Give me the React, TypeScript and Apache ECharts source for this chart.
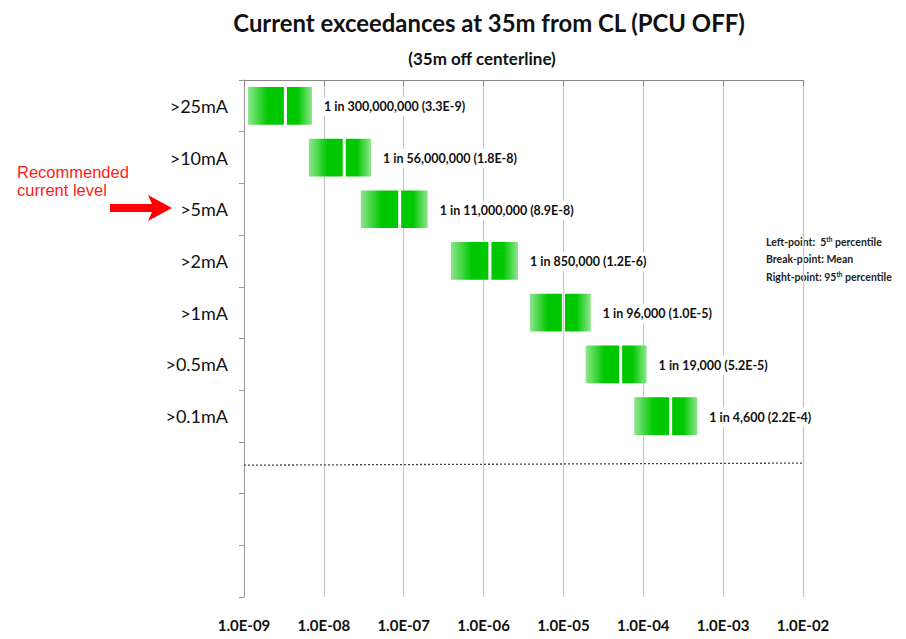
import React, { useEffect, useRef } from "react";
import * as echarts from "echarts";

const categories = [">25mA", ">10mA", ">5mA", ">2mA", ">1mA", ">0.5mA", ">0.1mA", "", "", ""];
const lowValues = [1.12e-9, 6.5e-9, 2.9e-8, 3.9e-7, 3.8e-6, 1.9e-5, 7.7e-5];
const meanValues = [3.3e-9, 1.8e-8, 8.9e-8, 1.2e-6, 1.0e-5, 5.2e-5, 2.2e-4];
const highValues = [7.1e-9, 3.9e-8, 2.0e-7, 2.7e-6, 2.2e-5, 1.1e-4, 4.75e-4];
const rateLabels = [
  "1 in 300,000,000 (3.3E-9)",
  "1 in 56,000,000 (1.8E-8)",
  "1 in 11,000,000 (8.9E-8)",
  "1 in 850,000 (1.2E-6)",
  "1 in 96,000 (1.0E-5)",
  "1 in 19,000 (5.2E-5)",
  "1 in 4,600 (2.2E-4)",
];
const xTickLabels = ["1.0E-09", "1.0E-08", "1.0E-07", "1.0E-06", "1.0E-05", "1.0E-04", "1.0E-03", "1.0E-02"];
const dottedLineX = [1e-9, 1e-2];
const dottedLineY = [7.45, 7.41];

const FONT = "Lato, 'Open Sans', sans-serif";
const GREEN = "#00c800";
const LIGHT = "#8ee68e";

export default function App() {
  const ref = useRef<HTMLDivElement>(null);
  useEffect(() => {
    if (!ref.current) return;
    const chart = echarts.init(ref.current, null, { renderer: "svg" });
    const barData = lowValues.map((lo, i) => [i, lo, meanValues[i], highValues[i]]);
    const option: any = {
      animation: false,
      backgroundColor: "#fff",
      grid: { left: 244, right: 103, top: 80, bottom: 42, containLabel: false },
      xAxis: {
        type: "log",
        logBase: 10,
        min: 1e-9,
        max: 1e-2,
        axisLine: { lineStyle: { color: "#888", width: 1 } },
        axisTick: { show: true, length: 6, lineStyle: { color: "#888" } },
        splitLine: { show: true, lineStyle: { color: "#c8c8c8", width: 1.2 } },
        axisLabel: {
          margin: 20,
          fontSize: 15,
          fontWeight: "bold",
          color: "#111",
          fontFamily: FONT,
          formatter: (_v: number, i: number) => xTickLabels[i],
        },
      },
      yAxis: [
        {
          type: "category",
          data: categories,
          inverse: true,
          axisLine: { lineStyle: { color: "#999" } },
          axisTick: { show: true, length: 5, lineStyle: { color: "#999" } },
          axisLabel: { margin: 16, fontSize: 18, color: "#111", fontFamily: FONT },
          splitLine: { show: false },
        },
        { type: "value", min: 0, max: 10, inverse: true, show: false },
      ],
      series: [
        {
          type: "line",
          yAxisIndex: 1,
          data: dottedLineX.map((x, i) => [x, dottedLineY[i]]),
          symbol: "none",
          lineStyle: { type: [2, 2], color: "#444", width: 1.3 },
          z: 1,
        },
        {
          type: "custom",
          encode: { x: [1, 2, 3], y: 0 },
          data: barData,
          z: 5,
          renderItem: (params: any, api: any) => {
            const cat = api.value(0);
            const lo = api.coord([api.value(1), cat]);
            const mid = api.coord([api.value(2), cat]);
            const hi = api.coord([api.value(3), cat]);
            const band = params.coordSys.height / categories.length;
            const h = band * 0.73;
            const y = lo[1] - h / 2;
            const idx = params.dataIndex;
            return {
              type: "group",
              children: [
                {
                  type: "rect",
                  shape: { x: lo[0], y, width: mid[0] - lo[0] - 1.5, height: h },
                  style: {
                    fill: new echarts.graphic.LinearGradient(0, 0, 1, 0, [
                      { offset: 0, color: LIGHT },
                      { offset: 0.55, color: GREEN },
                      { offset: 1, color: GREEN },
                    ]),
                  },
                },
                {
                  type: "rect",
                  shape: { x: mid[0] + 1.5, y, width: hi[0] - mid[0] - 1.5, height: h },
                  style: {
                    fill: new echarts.graphic.LinearGradient(0, 0, 1, 0, [
                      { offset: 0, color: GREEN },
                      { offset: 0.45, color: GREEN },
                      { offset: 1, color: LIGHT },
                    ]),
                  },
                },
                {
                  type: "text",
                  x: hi[0] + 10,
                  y: lo[1] + 1,
                  style: {
                    text: rateLabels[idx],
                    fill: "#111",
                    fontSize: 12.5,
                    fontWeight: "bold",
                    fontFamily: FONT,
                    verticalAlign: "middle",
                    align: "left",
                    backgroundColor: "#fff",
                    padding: [3, 2],
                  },
                },
              ],
            };
          },
        },
      ],
      graphic: [
        {
          type: "text",
          x: 489,
          y: 22,
          scaleX: 0.955,
          style: {
            text: "Current exceedances at 35m from CL (PCU OFF)",
            fill: "#111",
            fontSize: 25,
            fontWeight: "bold",
            fontFamily: FONT,
            align: "center",
            verticalAlign: "middle",
          },
        },
        {
          type: "text",
          x: 482,
          y: 58,
          style: {
            text: "(35m off centerline)",
            fill: "#111",
            fontSize: 17,
            fontWeight: "bold",
            fontFamily: FONT,
            align: "center",
            verticalAlign: "middle",
          },
        },
        {
          type: "text",
          x: 17,
          y: 172,
          style: { text: "Recommended", fill: "#ff1a1a", fontSize: 16.5, fontFamily: "'Liberation Sans', Arial, sans-serif", verticalAlign: "middle" },
        },
        {
          type: "text",
          x: 17,
          y: 190,
          style: { text: "current level", fill: "#ff1a1a", fontSize: 16.5, fontFamily: "'Liberation Sans', Arial, sans-serif", verticalAlign: "middle" },
        },
        {
          type: "polygon",
          shape: {
            points: [
              [110, 204],
              [152, 204],
              [148, 195],
              [172, 208],
              [148, 221],
              [152, 212],
              [110, 212],
            ],
          },
          style: { fill: "#ff0000" },
        },
        {
          type: "text",
          x: 766,
          y: 233,
          style: {
            text: "{a|Left-point:  5}{s|th}{a| percentile}\n{a|Break-point: Mean}\n{a|Right-point: 95}{s|th}{a| percentile}",
            lineHeight: 17.5,
            rich: {
              a: { fontSize: 10.5, fontWeight: "bold", fill: "#222", fontFamily: FONT, lineHeight: 17.5 },
              s: { fontSize: 6.5, fontWeight: "bold", fill: "#222", fontFamily: FONT, padding: [0, 0, 5, 0], lineHeight: 17.5 },
            },
          },
        },
      ],
    };
    chart.setOption(option);
    return () => chart.dispose();
  }, []);
  return (
    <div
      ref={ref}
      style={{ position: "fixed", left: 0, top: 0, width: 906, height: 639, background: "#fff" }}
    />
  );
}
